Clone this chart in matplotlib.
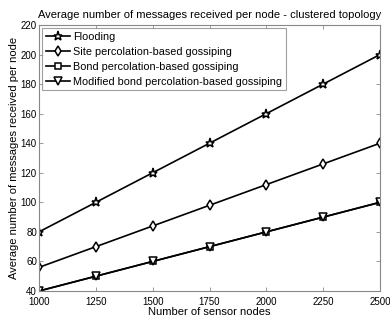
import matplotlib
matplotlib.use("Agg")
import matplotlib.pyplot as plt

plt.rcParams['font.family'] = ['Liberation Sans', 'DejaVu Sans']

nodes = [1000, 1250, 1500, 1750, 2000, 2250, 2500]
flooding = [80, 100, 120, 140, 160, 180, 200]
site_perc = [56, 70, 84, 98, 112, 126, 140]
bond_perc = [40, 50, 60, 70, 80, 90, 100]
mod_bond_perc = [40, 50, 60, 70, 80, 90, 100]
labels = ["Flooding", "Site percolation-based gossiping",
          "Bond percolation-based gossiping",
          "Modified bond percolation-based gossiping"]
x_ticks = [1000, 1250, 1500, 1750, 2000, 2250, 2500]
y_ticks = [40, 60, 80, 100, 120, 140, 160, 180, 200, 220]

fig = plt.figure(figsize=(3.9, 3.23), dpi=100)
ax = fig.add_axes([39/390, 1 - 291/323, (380-39)/390, (291-25)/323])

series = [flooding, site_perc, bond_perc, mod_bond_perc]
markers = ['*', 'd', 's', 'v']
msizes = [6.5, 5.5, 5, 5.5]
for ys, m, ms, lab in zip(series, markers, msizes, labels):
    ax.plot(nodes, ys, color='black', linewidth=1.2, marker=m, markersize=ms,
            markerfacecolor='white', markeredgecolor='black',
            markeredgewidth=1.1, label=lab)

ax.set_xlim(1000, 2500)
ax.set_ylim(40, 220)
ax.set_xticks(x_ticks)
ax.set_yticks(y_ticks)
ax.tick_params(direction='in', top=True, right=True, labelsize=7,
               length=3, width=0.6, color='#888888')
ax.tick_params(axis='x', pad=4)
ax.tick_params(axis='y', pad=1.5)
for sp in ax.spines.values():
    sp.set_color('#888888')
    sp.set_linewidth(0.8)

ax.set_title("Average number of messages received per node - clustered topology",
             fontsize=8, pad=5)
ax.set_xlabel("Number of sensor nodes", fontsize=8, labelpad=0)
ax.set_ylabel("Average number of messages received per node", fontsize=8, labelpad=1)

leg = ax.legend(loc='upper left', fontsize=7.8, frameon=True, fancybox=False,
                edgecolor='#888888', handlelength=2.2, handletextpad=0.3,
                borderpad=0.35, labelspacing=0.45, borderaxespad=0.3)
leg.get_frame().set_linewidth(0.8)

fig.savefig("out.png", dpi=100)
